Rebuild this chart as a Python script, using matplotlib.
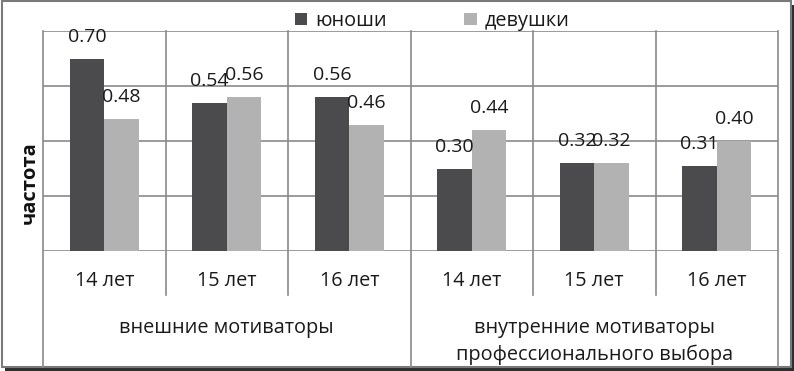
import matplotlib
matplotlib.use("Agg")
import matplotlib.pyplot as plt
from matplotlib.patches import Rectangle
import matplotlib.transforms as mtransforms
import numpy as np

# ---- data ----
years = ["14 лет", "15 лет", "16 лет", "14 лет", "15 лет", "16 лет"]
groups = ["внешние мотиваторы", "внутренние мотиваторы\nпрофессионального выбора"]
boys = [0.70, 0.54, 0.56, 0.30, 0.32, 0.31]
girls = [0.48, 0.56, 0.46, 0.44, 0.32, 0.40]
series_names = ["юноши", "девушки"]
ylabel = "частота"

W, H = 794, 371
DPI = 100
FONT = "Open Sans"
plt.rcParams["font.family"] = [FONT, "DejaVu Sans"]

fig = plt.figure(figsize=(W / DPI, H / DPI), dpi=DPI)

# outer frame with shadow
fig.patches.append(Rectangle((5 / W, 0), 789 / W, 366 / H, transform=fig.transFigure,
                             facecolor="#2e2e2e", edgecolor="none", zorder=-3))
fig.patches.append(Rectangle((1.5 / W, 4 / H), 789 / W, 366 / H, transform=fig.transFigure,
                             facecolor="white", edgecolor="#7a7a7a", linewidth=1.5, zorder=-2))

L, R, T, B = 43, 778, 31, 251
ax = fig.add_axes([L / W, (H - B) / H, (R - L) / W, (B - T) / H])
ax.set_facecolor("none")

x = np.arange(len(years))
bw = 0.28
dark = "#4b4b4d"
light = "#b2b2b2"
b1 = ax.bar(x - bw / 2, boys, bw, color=dark, label=series_names[0], zorder=3)
b2 = ax.bar(x + bw / 2, girls, bw, color=light, label=series_names[1], zorder=3)

ax.set_xlim(-0.5, len(years) - 0.5)
ax.set_ylim(0, 0.8)
ax.set_yticks([0, 0.2, 0.4, 0.6, 0.8])
ax.set_xticks([])
ax.tick_params(left=False, labelleft=False)
for s in ax.spines.values():
    s.set_visible(False)

gc = "#8a8a8a"
for yv in [0, 0.2, 0.4, 0.6, 0.8]:
    ax.axhline(yv, color=gc, lw=1.2, zorder=1)

trans = mtransforms.blended_transform_factory(ax.transData, ax.transAxes)
ph = B - T
for xv in np.arange(-0.5, len(years), 1.0):
    if xv in (-0.5, 2.5, 5.5):
        ybot = (B - 367) / ph
    else:
        ybot = (B - 295) / ph
    ax.plot([xv, xv], [ybot, 1], transform=trans, color=gc, lw=1.2, clip_on=False, zorder=1)

tc = "#1a1a1a"
# value labels
for bars, vals in ((b1, boys), (b2, girls)):
    for rect, v in zip(bars, vals):
        ax.annotate(f"{v:.2f}", (rect.get_x() + rect.get_width() / 2, v),
                    xytext=(0, 17 * 72 / DPI), textcoords="offset points",
                    ha="center", va="baseline", fontsize=14, color=tc, zorder=4)

# category labels
for xi, lab in zip(x, years):
    ax.text(xi, (B - 281) / ph, lab, transform=trans, ha="center", va="center",
            fontsize=14.3, color=tc)
for gi, g in enumerate(groups):
    ax.text(1 + 3 * gi, (B - 318) / ph, g, transform=trans, ha="center", va="top",
            fontsize=14.3, color=tc, linespacing=1.42)

fig.text(30 / W, (H - 183) / H, ylabel, rotation=90, ha="center", va="center",
         fontsize=14.5, fontweight="bold", color="#111111")

leg = fig.legend(handles=[b1, b2], labels=series_names, loc="center left",
                 bbox_to_anchor=(295 / W, (H - 21) / H), ncol=2, frameon=False,
                 fontsize=14.3, handlelength=0.62, handleheight=0.62, handletextpad=0.4,
                 columnspacing=3.9, borderpad=0, borderaxespad=0)
for t in leg.get_texts():
    t.set_color(tc)

fig.savefig("out.png", dpi=DPI)
